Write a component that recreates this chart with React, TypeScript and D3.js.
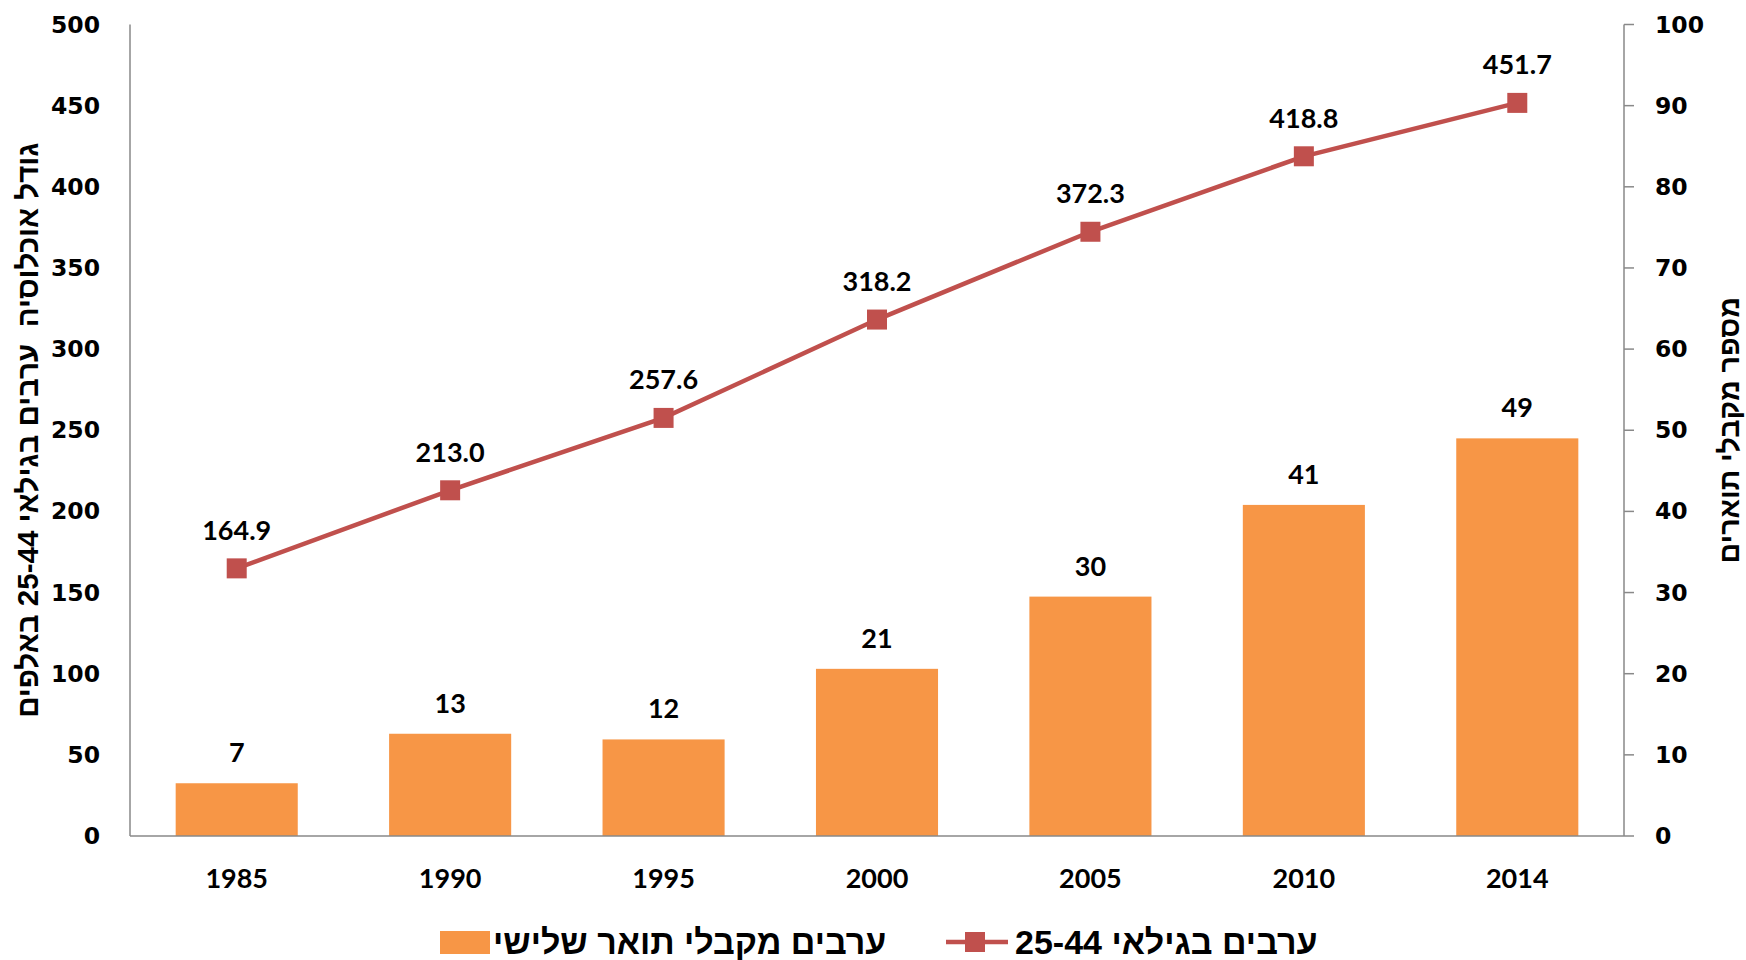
import * as d3 from 'd3'

const years = ['1985', '1990', '1995', '2000', '2005', '2010', '2014']
// ערבים בגילאי 25-44 (אלפים) - left axis
const population = [164.9, 213.0, 257.6, 318.2, 372.3, 418.8, 451.7]
// ערבים מקבלי תואר שלישי - right axis
const graduates = [6.5, 12.6, 11.9, 20.6, 29.5, 40.8, 49.0]
const leftTicks = [0, 50, 100, 150, 200, 250, 300, 350, 400, 450, 500]
const rightTicks = [0, 10, 20, 30, 40, 50, 60, 70, 80, 90, 100]

const leftTitle = 'גודל אוכלוסיה  ערבים בגילאי 25-44 באלפים'
const rightTitle = 'מספר מקבלי תוארים'
const barName = 'ערבים מקבלי תואר שלישי'
const lineName = 'ערבים בגילאי 25-44'

const W = 1746
const H = 960
const margin = { top: 24.5, right: 122, bottom: 124, left: 130 }

const barColor = '#F79646'
const lineColor = '#C0504D'
const axisColor = '#898989'
const tickFont = '"DejaVu Sans", Verdana, sans-serif'
const labelFont = 'Lato, "Open Sans", sans-serif'
const hebFont = '"Liberation Sans Narrow", "Arial Narrow", "Liberation Sans", sans-serif'

export default function App() {
    const x0 = margin.left
    const x1 = W - margin.right
    const y0 = H - margin.bottom
    const y1 = margin.top

    const x = d3.scaleBand<string>()
        .domain(years)
        .range([x0, x1])
        .paddingInner(0.428)
        .paddingOuter(0.214)

    const yLeft = d3.scaleLinear().domain([0, 500]).range([y0, y1])
    const yRight = d3.scaleLinear().domain([0, 100]).range([y0, y1])

    const cx = (d: string) => (x(d) ?? 0) + x.bandwidth() / 2

    const linePath = d3.line<number>()
        .x((_, i) => cx(years[i]))
        .y(d => yLeft(d))(population)

    const fmtLine = d3.format('.1f')
    const fmtBar = d3.format('.0f')
    const midY = (y0 + y1) / 2

    return (
        <svg width={W} height={H} style={{ position: 'absolute', left: 0, top: 0, background: '#fff' }}>
            {/* bars */}
            {graduates.map((v, i) => (
                <rect key={years[i]} x={x(years[i])} y={yRight(v)} width={x.bandwidth()}
                    height={y0 - yRight(v)} fill={barColor} />
            ))}
            {graduates.map((v, i) => (
                <text key={'bl' + i} x={cx(years[i])} y={yRight(v) - 21} textAnchor="middle"
                    fontFamily={labelFont} fontWeight="bold" fontSize={27} fill="#000">{fmtBar(v)}</text>
            ))}

            {/* axes */}
            <line x1={x0} x2={x0} y1={y1} y2={y0} stroke={axisColor} strokeWidth={1.5} />
            <line x1={x1} x2={x1} y1={y1} y2={y0} stroke={axisColor} strokeWidth={1.5} />
            <line x1={x0} x2={x1} y1={y0} y2={y0} stroke={axisColor} strokeWidth={1.5} />
            {rightTicks.map(t => (
                <line key={'rt' + t} x1={x1} x2={x1 + 10} y1={yRight(t)} y2={yRight(t)} stroke={axisColor} strokeWidth={1.5} />
            ))}
            {leftTicks.map(t => (
                <text key={'lt' + t} x={100} y={yLeft(t)} textAnchor="end" dominantBaseline="central"
                    fontFamily={tickFont} fontWeight="bold" fontSize={23.5} fill="#000">{t}</text>
            ))}
            {rightTicks.map(t => (
                <text key={'rl' + t} x={1655} y={yRight(t)} textAnchor="start" dominantBaseline="central"
                    fontFamily={tickFont} fontWeight="bold" fontSize={23.5} fill="#000">{t}</text>
            ))}
            {years.map(yr => (
                <text key={'x' + yr} x={cx(yr)} y={877} textAnchor="middle" dominantBaseline="central"
                    fontFamily={labelFont} fontWeight="bold" fontSize={27} fill="#000">{yr}</text>
            ))}

            {/* line series */}
            <path d={linePath ?? ''} fill="none" stroke={lineColor} strokeWidth={4.5} />
            {population.map((v, i) => (
                <rect key={'m' + i} x={cx(years[i]) - 10} y={yLeft(v) - 10} width={20} height={20} fill={lineColor} />
            ))}
            {population.map((v, i) => (
                <text key={'ll' + i} x={cx(years[i])} y={yLeft(v) - 28.5} textAnchor="middle"
                    fontFamily={labelFont} fontWeight="bold" fontSize={27} fill="#000">{fmtLine(v)}</text>
            ))}

            {/* axis titles */}
            <text transform={`translate(27,${midY}) rotate(-90)`} textAnchor="middle" dominantBaseline="central"
                fontFamily={hebFont} fontWeight="bold" fontSize={29.5} fill="#000" style={{ whiteSpace: 'pre' }}>{leftTitle}</text>
            <text transform={`translate(1729,${midY}) rotate(-90)`} textAnchor="middle" dominantBaseline="central"
                fontFamily={hebFont} fontWeight="bold" fontSize={28.5} fill="#000">{rightTitle}</text>

            {/* legend */}
            <rect x={440} y={931} width={50} height={23} fill={barColor} />
            <text x={493} y={942} textAnchor="start" dominantBaseline="central"
                fontFamily={hebFont} fontWeight="bold" fontSize={34} fill="#000">{barName}</text>
            <line x1={946} x2={1008} y1={942} y2={942} stroke={lineColor} strokeWidth={4.5} />
            <rect x={965} y={932} width={20} height={20} fill={lineColor} />
            <text x={1015} y={942} textAnchor="start" dominantBaseline="central"
                fontFamily={hebFont} fontWeight="bold" fontSize={34} fill="#000">{lineName}</text>
        </svg>
    )
}
